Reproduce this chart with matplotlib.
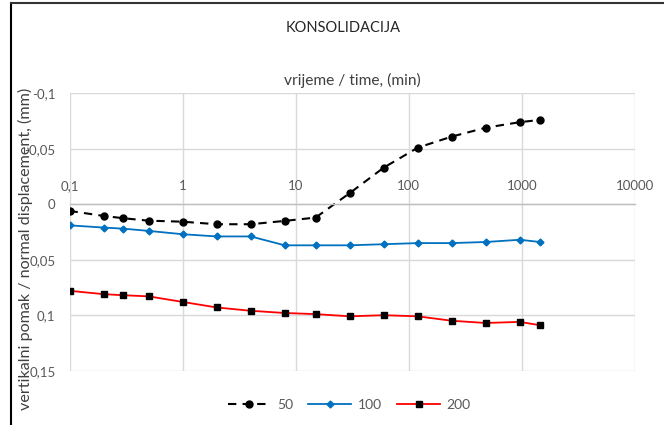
import matplotlib
matplotlib.use("Agg")
import matplotlib.pyplot as plt
from matplotlib.lines import Line2D
from matplotlib.ticker import FixedLocator, FixedFormatter, NullLocator

plt.rcParams['font.family'] = ['Lato', 'DejaVu Sans']

time_min = [0.1, 0.2, 0.3, 0.5, 1, 2, 4, 8, 15, 30, 60, 120, 240, 480, 960, 1440]
s50 = [0.006, 0.0105, 0.0126, 0.0148, 0.0157, 0.018, 0.018, 0.015, 0.012,
       -0.010, -0.033, -0.051, -0.061, -0.069, -0.074, -0.076]
s100 = [0.019, 0.021, 0.022, 0.024, 0.027, 0.029, 0.029, 0.037, 0.037,
        0.037, 0.036, 0.035, 0.035, 0.034, 0.032, 0.034]
s200 = [0.078, 0.081, 0.082, 0.083, 0.088, 0.093, 0.096, 0.098, 0.099,
        0.101, 0.100, 0.101, 0.105, 0.107, 0.106, 0.109]

x_ticks = [0.1, 1, 10, 100, 1000, 10000]
x_tick_labels = ["0,1", "1", "10", "100", "1000", "10000"]
y_ticks = [-0.1, -0.05, 0, 0.05, 0.1, 0.15]
y_tick_labels = ["-0,1", "-0,05", "0", "0,05", "0,1", "0,15"]

W, H = 664, 425
fig = plt.figure(figsize=(W / 100, H / 100), dpi=100)
ax = fig.add_axes([69.5 / W, 1 - 370.7 / H, (635 - 69.5) / W, (370.7 - 93.3) / H])

ax.set_xscale('log')
ax.set_xlim(0.1, 10000)
ax.set_ylim(0.15, -0.1)

ax.xaxis.set_major_locator(FixedLocator(x_ticks))
ax.xaxis.set_major_formatter(FixedFormatter(x_tick_labels))
ax.xaxis.set_minor_locator(NullLocator())
ax.yaxis.set_major_locator(FixedLocator(y_ticks))
ax.yaxis.set_major_formatter(FixedFormatter(y_tick_labels))

grid_c = '#d9d9d9'
ax.grid(True, color=grid_c, lw=1.0)
ax.set_axisbelow(True)
for s in ['left', 'right', 'bottom']:
    ax.spines[s].set_visible(False)
ax.spines['top'].set_position(('data', 0))
ax.spines['top'].set_color('#bfbfbf')
ax.spines['top'].set_linewidth(1.0)
ax.xaxis.set_ticks_position('top')
ax.tick_params(axis='x', length=0, pad=9, labelsize=9.5, labelcolor='#595959')
ax.tick_params(axis='y', length=0, pad=10, labelsize=9.5, labelcolor='#595959')

ax.plot(time_min, s50, color='black', lw=1.5, ls=(0, (4, 3)), marker='o', ms=5, label='50')
ax.plot(time_min, s100, color='#0070C0', lw=1.3, marker='D', ms=3.5, label='100')
ax.plot(time_min, s200, color='#FF0000', lw=1.3, marker='s', ms=5,
        mfc='black', mec='black', label='200')

fig.text(343 / W, 1 - 28 / H, 'KONSOLIDACIJA', ha='center', va='center', fontsize=10.5, color='#262626')
fig.text(352 / W, 1 - 80 / H, 'vrijeme / time, (min)', ha='center', va='center', fontsize=11.2, color='#404040')
fig.text(25 / W, 1 - 249 / H, 'vertikalni pomak / normal displacement, (mm)', ha='center', va='center',
         rotation=90, fontsize=11.6, color='#404040')

leg = fig.legend(loc='center', bbox_to_anchor=(349 / W, 1 - 405 / H), ncol=3, frameon=False,
                 fontsize=10, handlelength=3.1, columnspacing=1.1, handletextpad=0.45)
for t in leg.get_texts():
    t.set_color('#595959')

fig.add_artist(Line2D([10.5 / W, 10.5 / W], [0, 1 - 3 / H], transform=fig.transFigure, color='black', lw=1.5))
fig.add_artist(Line2D([10.5 / W, 1], [1 - 3 / H, 1 - 3 / H], transform=fig.transFigure, color='#333333', lw=1.5))

fig.savefig('out.png', dpi=100)
